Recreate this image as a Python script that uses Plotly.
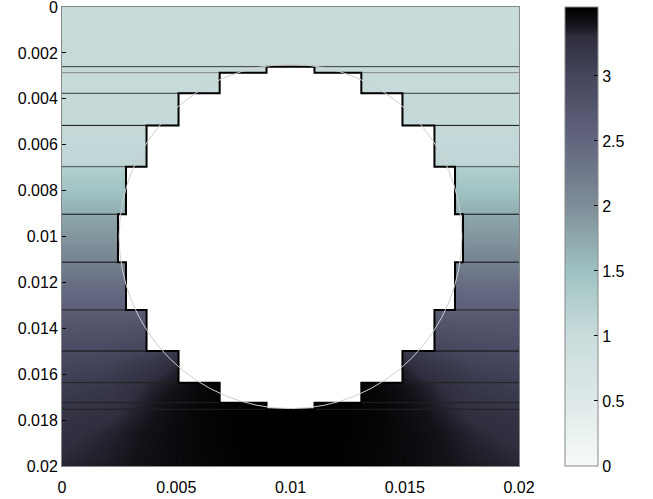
import plotly.graph_objects as go

# ---------------- data ----------------
x_cols = [0.0, 0.002, 0.004, 0.006, 0.008, 0.010, 0.012, 0.014, 0.016, 0.018, 0.020]

# rows that are (nearly) uniform across x
upper_y = [0.0, 0.002, 0.004, 0.006, 0.0068, 0.0071, 0.0078, 0.0089, 0.0092,
           0.0102, 0.0110, 0.0113, 0.0123, 0.0131, 0.0134]
upper_v = [1.02, 1.03, 1.05, 1.08, 1.12, 1.30, 1.44, 1.68, 1.80,
           1.95, 2.13, 2.22, 2.45, 2.60, 2.70]

# deeper rows, varying across x
lower_y = [0.0145, 0.0155, 0.0165, 0.0175, 0.0185, 0.0200]
lower_v = [
    [2.84, 2.86, 2.93, 3.08, 3.30, 3.40, 3.30, 3.08, 2.93, 2.86, 2.84],
    [3.00, 3.03, 3.20, 3.43, 3.50, 3.52, 3.50, 3.43, 3.20, 3.03, 3.00],
    [3.10, 3.17, 3.34, 3.47, 3.52, 3.53, 3.52, 3.47, 3.34, 3.17, 3.10],
    [3.20, 3.26, 3.39, 3.49, 3.53, 3.53, 3.53, 3.49, 3.39, 3.26, 3.20],
    [3.27, 3.33, 3.42, 3.49, 3.53, 3.53, 3.53, 3.49, 3.42, 3.33, 3.27],
    [3.33, 3.37, 3.43, 3.48, 3.52, 3.53, 3.52, 3.48, 3.43, 3.37, 3.33],
]

# stair-stepped hole: band edges (y) and hole half-widths per band
hole_center = 0.01
hole_edges_y = [0.0026, 0.00286, 0.00376, 0.00516, 0.00696, 0.00903,
                0.01112, 0.0132, 0.01499, 0.01637, 0.01724, 0.01753]
hole_half_w = [0.00105, 0.0031, 0.0049, 0.0063, 0.0072, 0.00755,
               0.0072, 0.0063, 0.0049, 0.0031, 0.00105]
line_colors = ['#3a3a3a', '#8a8a8a', '#333333', '#111111', '#4a4a4a', '#111111',
               '#111111', '#222222', '#111111', '#222222', '#222222', '#222222']

circle_cx, circle_cy, circle_r = 0.01, 0.01, 0.0075

y_ticks = [0, 0.002, 0.004, 0.006, 0.008, 0.01, 0.012, 0.014, 0.016, 0.018, 0.02]
y_ticktext = ['0', '0.002', '0.004', '0.006', '0.008', '0.01', '0.012', '0.014',
              '0.016', '0.018', '0.02']
x_ticks = [0, 0.005, 0.01, 0.015, 0.02]
x_ticktext = ['0', '0.005', '0.01', '0.015', '0.02']
cb_ticks = [0, 0.5, 1, 1.5, 2, 2.5, 3]
cb_ticktext = ['0', '0.5', '1', '1.5', '2', '2.5', '3']

zmin, zmax = 0.0, 3.53
cmap_vals = [0.0, 0.5, 1.0, 1.5, 2.0, 2.5, 3.0, 3.3, 3.4, 3.53]
cmap_cols = ['#f6f9f9', '#dfe9e9', '#cadcdc', '#9ec2c2', '#7e8e98', '#62667e',
             '#45455c', '#2e2e3e', '#121218', '#000000']

# ---------------- build ----------------
y_rows = upper_y + lower_y
z = [[v] * len(x_cols) for v in upper_v] + lower_v
colorscale = [[(v - zmin) / (zmax - zmin), c] for v, c in zip(cmap_vals, cmap_cols)]

font = dict(family='Liberation Sans, Arial', size=16, color='#000')

fig = go.Figure()
fig.add_trace(go.Heatmap(
    x=x_cols, y=y_rows, z=z, zmin=zmin, zmax=zmax, zsmooth='best',
    colorscale=colorscale, showscale=True,
    colorbar=dict(
        x=(565 - 62) / 457, xanchor='left', y=0.5, yanchor='middle',
        len=1, lenmode='fraction', thickness=33, thicknessmode='pixels',
        xpad=0, ypad=0, outlinewidth=1, outlinecolor='#888888',
        tickvals=cb_ticks, ticktext=cb_ticktext, ticks='inside', ticklen=4,
        tickcolor='#000000', tickfont=font,
    ),
    hoverinfo='skip',
))

# full-width band lines
for yv, col in zip(hole_edges_y, line_colors):
    fig.add_trace(go.Scatter(x=[0, 0.02], y=[yv, yv], mode='lines',
                             line=dict(color=col, width=1), showlegend=False,
                             hoverinfo='skip'))

# stair-stepped hole polygon
px, py = [], []
n = len(hole_half_w)
for i in range(n):
    px += [hole_center + hole_half_w[i], hole_center + hole_half_w[i]]
    py += [hole_edges_y[i], hole_edges_y[i + 1]]
for i in reversed(range(n)):
    px += [hole_center - hole_half_w[i], hole_center - hole_half_w[i]]
    py += [hole_edges_y[i + 1], hole_edges_y[i]]
px.append(px[0]); py.append(py[0])
fig.add_trace(go.Scatter(x=px, y=py, mode='lines', fill='toself', fillcolor='white',
                         line=dict(color='black', width=2), showlegend=False,
                         hoverinfo='skip'))

# true circle
fig.add_shape(type='circle', xref='x', yref='y',
              x0=circle_cx - circle_r, x1=circle_cx + circle_r,
              y0=circle_cy - circle_r, y1=circle_cy + circle_r,
              line=dict(color='#cfcfcf', width=1), layer='above')

eps = 1e-9
fig.update_layout(
    width=653, height=499,
    margin=dict(l=62, r=134, t=7, b=33, autoexpand=False),
    paper_bgcolor='white', plot_bgcolor='white',
    font=font, showlegend=False,
    xaxis=dict(range=[-eps, 0.02 + eps], tickvals=x_ticks, ticktext=x_ticktext,
               showline=True, mirror=True, linecolor='#888888', linewidth=1,
               ticks='inside', ticklen=4, tickcolor='#000', showgrid=False,
               zeroline=False, tickfont=font, ticklabelstandoff=7,
               ticklabeloverflow='allow', automargin=False),
    yaxis=dict(range=[0.02 + eps, -eps], tickvals=y_ticks, ticktext=y_ticktext,
               showline=True, mirror=True, linecolor='#888888', linewidth=1,
               ticks='inside', ticklen=4, tickcolor='#000', showgrid=False,
               zeroline=False, tickfont=font, ticklabeloverflow='allow',
               automargin=False),
)

fig.write_html('out.html')
